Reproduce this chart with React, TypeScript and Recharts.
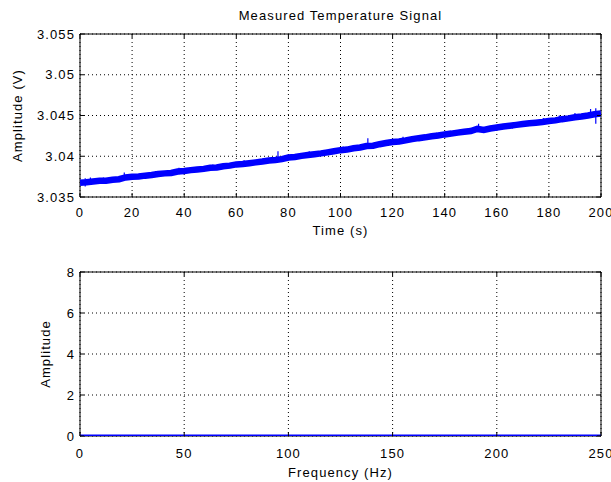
import React from 'react';
import { LineChart, Line, XAxis, YAxis, CartesianGrid, ReferenceArea } from 'recharts';

// ---- Top subplot data (Measured Temperature Signal) ----
const timeS: number[] = [
  0, 2.5, 5, 7.5, 10, 12.5, 15, 17.5, 20, 22.5, 25, 27.5, 30, 32.5, 35, 37.5, 40, 42.5, 45, 47.5,
  50, 52.5, 55, 57.5, 60, 62.5, 65, 67.5, 70, 72.5, 75, 77.5, 80, 82.5, 85, 87.5, 90, 92.5, 95, 97.5,
  100, 102.5, 105, 107.5, 110, 112.5, 115, 117.5, 120, 122.5, 125, 127.5, 130, 132.5, 135, 137.5,
  140, 142.5, 145, 147.5, 150, 152.5, 155, 157.5, 160, 162.5, 165, 167.5, 170, 172.5, 175, 177.5,
  180, 182.5, 185, 187.5, 190, 192.5, 195, 197.5, 200,
];
const amplitudeV: number[] = [
  3.03675, 3.0368, 3.0369, 3.037, 3.037, 3.03712, 3.03718, 3.0374, 3.03748, 3.03752, 3.03762, 3.0377,
  3.03782, 3.0379, 3.03795, 3.03812, 3.0382, 3.0383, 3.03838, 3.03845, 3.03858, 3.03862, 3.03878,
  3.03885, 3.039, 3.03905, 3.03915, 3.03925, 3.03935, 3.03948, 3.03955, 3.03965, 3.03985, 3.03992,
  3.04005, 3.04015, 3.04025, 3.04035, 3.04048, 3.04062, 3.04075, 3.04082, 3.04098, 3.04108, 3.04125,
  3.0413, 3.04148, 3.04162, 3.04175, 3.04182, 3.04195, 3.0421, 3.04222, 3.04232, 3.04245, 3.04255,
  3.04268, 3.04278, 3.0429, 3.043, 3.0431, 3.04335, 3.04322, 3.0434, 3.04352, 3.04365, 3.04375,
  3.04385, 3.04395, 3.04405, 3.04412, 3.0442, 3.04432, 3.0444, 3.04455, 3.04465, 3.04478, 3.04488,
  3.045, 3.04515, 3.04525,
];
// thin noise spikes: [time, from, to]
const spikeTimes: number[] = [2, 4, 9, 17, 29, 38, 51, 63, 76, 88, 101, 110.5, 124, 137, 146, 153, 166, 178, 184, 190, 196, 198];
const spikeLow: number[] = [3.0363, 3.0365, 3.0366, 3.0372, 3.0375, 3.0378, 3.0383, 3.0388, 3.0396, 3.0399, 3.0405, 3.0410, 3.0417, 3.0422, 3.0426, 3.0430, 3.0434, 3.0439, 3.0442, 3.0445, 3.0447, 3.0440];
const spikeHigh: number[] = [3.0373, 3.0374, 3.0374, 3.0380, 3.0382, 3.0386, 3.0390, 3.0395, 3.0406, 3.0406, 3.0412, 3.0422, 3.0424, 3.0429, 3.0433, 3.0440, 3.0441, 3.0447, 3.0450, 3.0453, 3.0458, 3.0459];

const timeTicks: number[] = [0, 20, 40, 60, 80, 100, 120, 140, 160, 180, 200];
const voltTicks: number[] = [3.035, 3.04, 3.045, 3.05, 3.055];

// ---- Bottom subplot data (spectrum) ----
const freqHz: number[] = [0, 25, 50, 75, 100, 125, 150, 175, 200, 225, 250];
const spectrumAmp: number[] = [0, 0, 0, 0, 0, 0, 0, 0, 0, 0, 0];
const freqTicks: number[] = [0, 50, 100, 150, 200, 250];
const ampTicks: number[] = [0, 2, 4, 6, 8];

const topData = timeS.map((t, i) => ({ t, v: amplitudeV[i] }));
const spikeData: { t: number; v: number | null }[] = [];
spikeTimes.forEach((t, i) => {
  spikeData.push({ t, v: spikeLow[i] });
  spikeData.push({ t, v: spikeHigh[i] });
  spikeData.push({ t, v: null });
});
const bottomData = freqHz.map((f, i) => ({ f, a: spectrumAmp[i] }));

const FONT = "'Liberation Sans', Arial, Helvetica, sans-serif";
const FS = 13;
const LS = 1.1;
const TICK_LEN = 4;

const W = 611;
const PLOT_LEFT = 80;
const PLOT_RIGHT_MARGIN = 10;
const PLOT_W = W - PLOT_LEFT - PLOT_RIGHT_MARGIN;

function makeXTick(plotH: number, labelDy: number) {
  return (props: any) => {
    const { x, y, payload } = props;
    return (
      <g>
        <line x1={x} y1={y} x2={x} y2={y - TICK_LEN} stroke="#000" strokeWidth={1} />
        <line x1={x} y1={y - plotH} x2={x} y2={y - plotH + TICK_LEN} stroke="#000" strokeWidth={1} />
        <text x={x} y={y + labelDy} textAnchor="middle" fontFamily={FONT} fontSize={FS} letterSpacing={LS} fill="#000">
          {String(payload.value)}
        </text>
      </g>
    );
  };
}

function makeYTick() {
  return (props: any) => {
    const { x, y, payload } = props;
    return (
      <g>
        <line x1={x} y1={y} x2={x + TICK_LEN} y2={y} stroke="#000" strokeWidth={1} />
        <line x1={x + PLOT_W} y1={y} x2={x + PLOT_W - TICK_LEN} y2={y} stroke="#000" strokeWidth={1} />
        <text x={x - 5} y={y + 4.6} textAnchor="end" fontFamily={FONT} fontSize={FS} letterSpacing={LS} fill="#000">
          {String(payload.value)}
        </text>
      </g>
    );
  };
}

function boxLabels(title: string | null, xLabel: string, yLabel: string, xLabelDy: number, yLabelX: number) {
  return (props: any) => {
    const vb = props.viewBox || {};
    const cx = vb.x + vb.width / 2;
    const cy = vb.y + vb.height / 2;
    return (
      <g>
        {title ? (
          <text x={cx} y={vb.y - 14} textAnchor="middle" fontFamily={FONT} fontSize={FS} letterSpacing={LS} fill="#000">
            {title}
          </text>
        ) : null}
        <text x={cx} y={vb.y + vb.height + xLabelDy} textAnchor="middle" fontFamily={FONT} fontSize={FS} letterSpacing={LS} fill="#000">
          {xLabel}
        </text>
        <text
          x={yLabelX}
          y={cy}
          textAnchor="middle"
          fontFamily={FONT}
          fontSize={FS}
          letterSpacing={LS}
          fill="#000"
          transform={`rotate(-90 ${yLabelX} ${cy})`}
          dy={4.6}
        >
          {yLabel}
        </text>
      </g>
    );
  };
}

export default function App() {
  const topH = 240;
  const topMarginTop = 34;
  const topAxisH = 43;
  const topPlotH = topH - topMarginTop - topAxisH;

  const botH = 242;
  const botMarginTop = 32;
  const botAxisH = 46;
  const botPlotH = botH - botMarginTop - botAxisH;

  return (
    <div style={{ position: 'absolute', left: 0, top: 0, width: W, height: 482, background: '#fff' }}>
      <LineChart width={W} height={topH} data={topData} margin={{ top: topMarginTop, right: PLOT_RIGHT_MARGIN, bottom: 0, left: 0 }}>
        <CartesianGrid stroke="#000" strokeDasharray="1 3" strokeWidth={1} />
        <XAxis
          dataKey="t"
          type="number"
          domain={[0, 200]}
          ticks={timeTicks}
          allowDataOverflow
          height={topAxisH}
          axisLine={false}
          tickLine={false}
          tickSize={0}
          tickMargin={0}
          interval={0}
          tick={makeXTick(topPlotH, 20)}
        />
        <YAxis
          type="number"
          domain={[3.035, 3.055]}
          ticks={voltTicks}
          allowDataOverflow
          width={PLOT_LEFT}
          axisLine={false}
          tickLine={false}
          tickSize={0}
          tickMargin={0}
          interval={0}
          tick={makeYTick()}
        />
        <ReferenceArea
          x1={0}
          x2={200}
          y1={3.035}
          y2={3.055}
          fill="none"
          fillOpacity={0}
          stroke="#000"
          strokeWidth={1}
          ifOverflow="visible"
          label={{ content: boxLabels('Measured Temperature Signal', 'Time (s)', 'Amplitude (V)', 37.5, 17) } as any}
        />
        <Line dataKey="v" stroke="#0000ff" strokeWidth={6.5} dot={false} isAnimationActive={false} />
        <Line data={spikeData} dataKey="v" stroke="#0000ff" strokeWidth={1.2} dot={false} isAnimationActive={false} connectNulls={false} />
      </LineChart>
      <LineChart width={W} height={botH} data={bottomData} margin={{ top: botMarginTop, right: PLOT_RIGHT_MARGIN, bottom: 0, left: 0 }}>
        <CartesianGrid stroke="#000" strokeDasharray="1 3" strokeWidth={1} />
        <XAxis
          dataKey="f"
          type="number"
          domain={[0, 250]}
          ticks={freqTicks}
          allowDataOverflow
          height={botAxisH}
          axisLine={false}
          tickLine={false}
          tickSize={0}
          tickMargin={0}
          interval={0}
          tick={makeXTick(botPlotH, 21.5)}
        />
        <YAxis
          type="number"
          domain={[0, 8]}
          ticks={ampTicks}
          allowDataOverflow
          width={PLOT_LEFT}
          axisLine={false}
          tickLine={false}
          tickSize={0}
          tickMargin={0}
          interval={0}
          tick={makeYTick()}
        />
        <ReferenceArea
          x1={0}
          x2={250}
          y1={0}
          y2={8}
          fill="none"
          fillOpacity={0}
          stroke="#000"
          strokeWidth={1}
          ifOverflow="visible"
          label={{ content: boxLabels(null, 'Frequency (Hz)', 'Amplitude', 40.5, 45) } as any}
        />
        <Line dataKey="a" stroke="#0000ff" strokeWidth={3} dot={false} isAnimationActive={false} />
      </LineChart>
    </div>
  );
}
